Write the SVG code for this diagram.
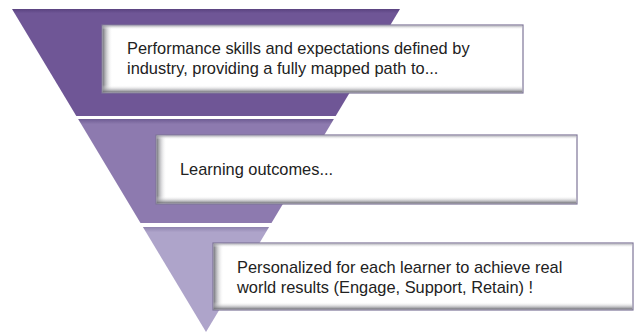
<svg xmlns="http://www.w3.org/2000/svg" width="634" height="333" viewBox="0 0 634 333">
  <defs>
    <linearGradient id="g1" x1="0" y1="0" x2="0" y2="1">
      <stop offset="0" stop-color="#5a4380"/>
      <stop offset="0.04" stop-color="#6f5696"/>
      <stop offset="1" stop-color="#6f5696"/>
    </linearGradient>
    <linearGradient id="g2" x1="0" y1="0" x2="0" y2="1">
      <stop offset="0" stop-color="#6e5c93"/>
      <stop offset="0.05" stop-color="#8d7aaf"/>
      <stop offset="1" stop-color="#8d7aaf"/>
    </linearGradient>
    <linearGradient id="g3" x1="0" y1="0" x2="0" y2="1">
      <stop offset="0" stop-color="#8e83ae"/>
      <stop offset="0.05" stop-color="#aea4ca"/>
      <stop offset="1" stop-color="#aea4ca"/>
    </linearGradient>
    <linearGradient id="shL" x1="0" y1="0" x2="1" y2="0">
      <stop offset="0" stop-color="#6a6a72" stop-opacity="0.95"/>
      <stop offset="1" stop-color="#ffffff" stop-opacity="0"/>
    </linearGradient>
    <linearGradient id="shB" x1="0" y1="0" x2="0" y2="1">
      <stop offset="0" stop-color="#ffffff" stop-opacity="0"/>
      <stop offset="1" stop-color="#66666e" stop-opacity="0.95"/>
    </linearGradient>
    <linearGradient id="shT" x1="0" y1="0" x2="0" y2="1">
      <stop offset="0" stop-color="#9a9aa2" stop-opacity="0.8"/>
      <stop offset="1" stop-color="#ffffff" stop-opacity="0"/>
    </linearGradient>
  </defs>
  <style>
    .box { fill: #ffffff; stroke: #7e7598; stroke-width: 1.2; }
    .t { font-family: "Liberation Sans", Arial, sans-serif; font-size: 16.4px; fill: #222222; }
  </style>

  <g id="band1"><polygon points="12,9 400,9 335.7,116 76.3,116" fill="url(#g1)"/></g>
  <g id="band2"><polygon points="78.1,119 333.9,119 271.5,223 140.5,223" fill="url(#g2)"/></g>
  <g id="band3"><polygon points="142.9,227 269.1,227 206,332" fill="url(#g3)"/></g>

  <g id="box1">
    <rect class="box" x="102" y="25" width="421" height="68"/>
    <rect x="102.6" y="25.6" width="10" height="66.8" fill="url(#shL)"/>
    <rect x="102.6" y="25.6" width="419.8" height="4" fill="url(#shT)"/>
    <rect x="102.6" y="85" width="419.8" height="7.4" fill="url(#shB)"/>
    <text class="t" x="127" y="54">Performance skills and expectations defined by</text>
    <text class="t" x="127" y="74">industry, providing a fully mapped path to...</text>
  </g>

  <g id="box2">
    <rect class="box" x="156" y="135" width="421" height="69"/>
    <rect x="156.6" y="135.6" width="10" height="67.8" fill="url(#shL)"/>
    <rect x="156.6" y="135.6" width="419.8" height="4" fill="url(#shT)"/>
    <rect x="156.6" y="196" width="419.8" height="7.4" fill="url(#shB)"/>
    <text class="t" x="180" y="175">Learning outcomes...</text>
  </g>

  <g id="box3">
    <rect class="box" x="213" y="243" width="420" height="67"/>
    <rect x="213.6" y="243.6" width="10" height="65.8" fill="url(#shL)"/>
    <rect x="213.6" y="243.6" width="418.8" height="4" fill="url(#shT)"/>
    <rect x="213.6" y="302" width="418.8" height="7.4" fill="url(#shB)"/>
    <text class="t" x="237" y="273">Personalized for each learner to achieve real</text>
    <text class="t" x="237" y="293">world results (Engage, Support, Retain) !</text>
  </g>

  <g id="connectors"></g>
</svg>
